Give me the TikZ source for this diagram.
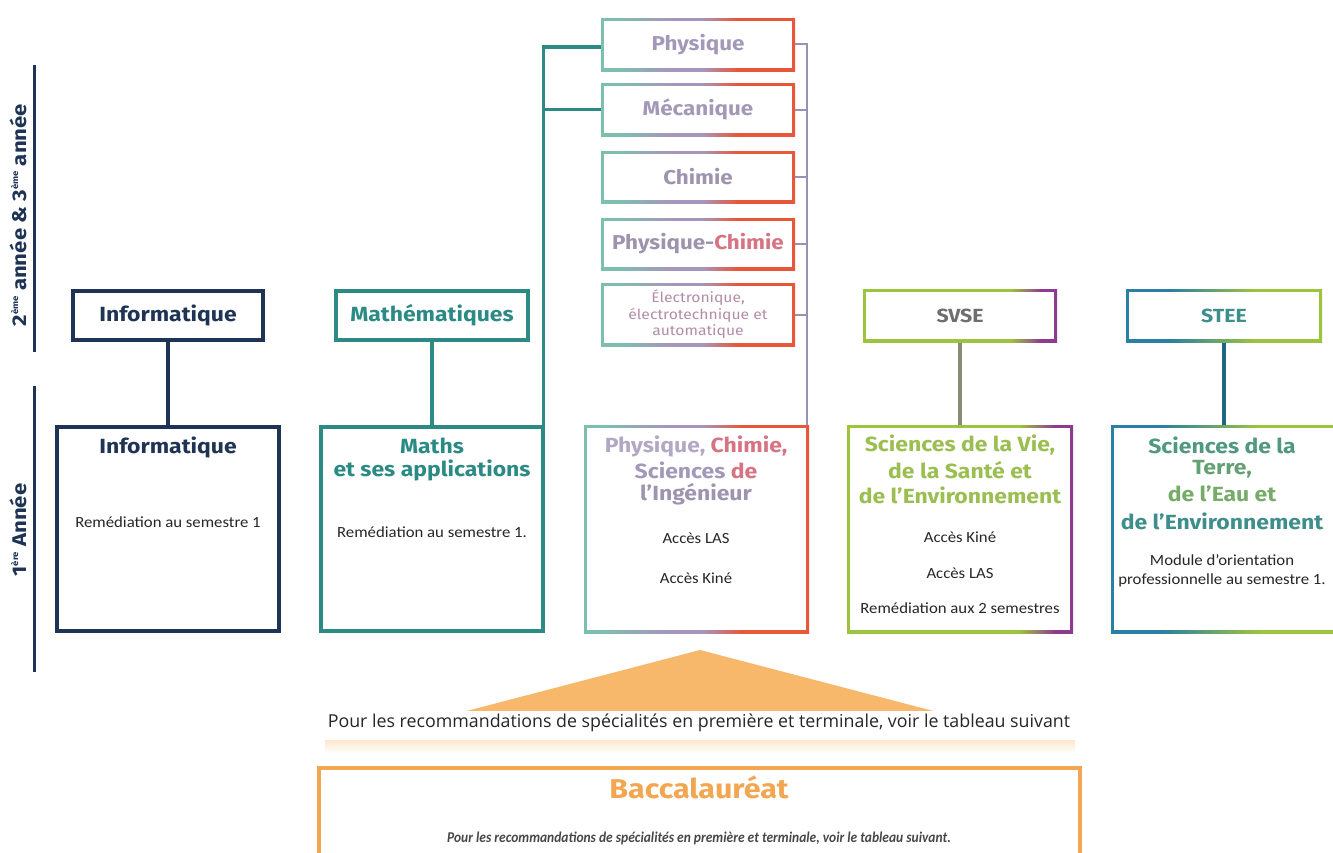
\documentclass[tikz,border=0pt]{standalone}
\usepackage{fontspec}
\setmainfont{Fira Sans}[FakeStretch=1.12]
\newfontfamily\bodyf{Carlito}[FakeStretch=1.08]
\newfontfamily\itf{Carlito}
\newfontfamily\bandf{Open Sans}
\usetikzlibrary{fit}
\definecolor{navy}{HTML}{1F3454}
\definecolor{teal}{HTML}{2B8A84}
\definecolor{pcA}{HTML}{7DBFAE}
\definecolor{pcB}{HTML}{A596BE}
\definecolor{pcC}{HTML}{E9573B}
\definecolor{lav}{HTML}{9A92B4}
\definecolor{lavtxt}{HTML}{A498B8}
\definecolor{pinktxt}{HTML}{D67484}
\definecolor{green}{HTML}{9DC43E}
\definecolor{purp}{HTML}{8E3B8F}
\definecolor{stblue}{HTML}{2A7FA2}
\definecolor{olive}{HTML}{8C8A72}
\definecolor{greentxt}{HTML}{9BBE50}
\definecolor{tealtxt}{HTML}{3E8E8C}
\definecolor{orangeA}{HTML}{F8B86C}
\definecolor{orangeB}{HTML}{F3A651}
\definecolor{greytxt}{HTML}{6E6E6E}
\pgfdeclarehorizontalshading{pcshade}{100bp}{color(0bp)=(pcA); color(29bp)=(pcA); color(43bp)=(pcB); color(51bp)=(pcB); color(60bp)=(pcC); color(100bp)=(pcC)}
\pgfdeclarehorizontalshading{svshade}{100bp}{color(0bp)=(green); color(63bp)=(green); color(71bp)=(purp); color(100bp)=(purp)}
\pgfdeclarehorizontalshading{stshade}{100bp}{color(0bp)=(stblue); color(36bp)=(stblue); color(58bp)=(green); color(100bp)=(green)}
\newcommand\mkbox[5]{\node[fit={(#2,#3) (#4,#5)}, inner sep=0pt, outer sep=0pt] (#1) {};}
\newcommand\solidborder[2]{\draw[line width=3.6pt, #2] ([xshift=1.8pt,yshift=-1.8pt]#1.north west) rectangle ([xshift=-1.8pt,yshift=1.8pt]#1.south east);}
\newcommand\gradborder[2]{\shade[shading=#2] (#1.north west) rectangle (#1.south east);
  \fill[white] ([xshift=3.4pt,yshift=-3.4pt]#1.north west) rectangle ([xshift=-3.4pt,yshift=3.4pt]#1.south east);}
\newcommand\supx[1]{\raisebox{0.75ex}{\fontsize{8.5}{9}\selectfont #1}}
\tikzset{
  ttl/.style={font=\bfseries\fontsize{20.5}{24}\selectfont, inner sep=0pt},
  sttl/.style={font=\bfseries\fontsize{20}{24}\selectfont, inner sep=0pt},
  small/.style={font=\bodyf\fontsize{15.5}{18}\selectfont, text=black!85, inner sep=0pt},
  axlab/.style={font=\bfseries\fontsize{19.8}{23}\selectfont, text=navy, rotate=90, inner sep=0pt},
}
\begin{document}
\begin{tikzpicture}[x=1pt,y=-1pt]
\useasboundingbox (0,0) rectangle (1333,852);
\clip (0,0) rectangle (1333,852);
% axis
\coordinate (a1) at (34,65); \coordinate (a2) at (34,352);
\coordinate (a3) at (34,386); \coordinate (a4) at (34,672);
\draw[navy, line width=3pt] (a1) -- (a2);
\draw[navy, line width=3pt] (a3) -- (a4);
\node[axlab] (lab2) at (18,215) {2\supx{ème} année \& 3\supx{ème} année};
\node[axlab] (lab1) at (18,530) {1\supx{ère} Année};
% boxes
\mkbox{infT}{71}{289}{265}{342}
\mkbox{mathT}{334}{289}{530}{342}
\mkbox{phys}{601}{18}{795}{71}
\mkbox{meca}{601}{83}{795}{136}
\mkbox{chim}{601}{151}{795}{203}
\mkbox{pc}{601}{218}{795}{270}
\mkbox{elec}{601}{283}{795}{346}
\mkbox{svseT}{863}{289}{1057}{342}
\mkbox{steeT}{1126}{289}{1322}{342}
\mkbox{infB}{55}{425}{281}{633}
\mkbox{mathB}{319}{425}{545}{633}
\mkbox{pcsiB}{584}{425}{809}{633}
\mkbox{svseB}{847}{425}{1073}{633}
\mkbox{steeB}{1111}{425}{1337}{633}
\mkbox{bac}{317}{766}{1082}{870}
% connectors
\draw[navy, line width=3.4pt] (infT.south) -- (infB.north);
\draw[teal, line width=3.4pt] (mathT.south) -- (mathB.north);
\coordinate (tl) at (543,47);
\draw[teal, line width=3.4pt] ([xshift=-1.8pt]mathB.north east) -- ([xshift=-1.8pt]mathB.north east |- tl) -- (phys.west |- tl);
\draw[teal, line width=3.4pt] ([xshift=-1.8pt]mathB.north east |- meca.west) -- (meca.west);
\coordinate (rt) at (807,44);
\draw[lav, line width=2.6pt] (phys.east |- rt) -- (rt) -- (rt |- pcsiB.north);
\draw[lav, line width=2pt] (meca.east) -- (meca.east -| rt);
\draw[lav, line width=2pt] (chim.east) -- (chim.east -| rt);
\draw[lav, line width=2pt] (pc.east) -- (pc.east -| rt);
\draw[lav, line width=2pt] (elec.east) -- (elec.east -| rt);
\draw[olive, line width=3.4pt] (svseT.south) -- (svseB.north);
\draw[stblue!80!black, line width=3.4pt] (steeT.south) -- (steeB.north);
% borders
\solidborder{infT}{navy}
\solidborder{infB}{navy}
\solidborder{mathT}{teal}
\solidborder{mathB}{teal}
\gradborder{phys}{pcshade}
\gradborder{meca}{pcshade}
\gradborder{chim}{pcshade}
\gradborder{pc}{pcshade}
\gradborder{elec}{pcshade}
\gradborder{pcsiB}{pcshade}
\gradborder{svseT}{svshade}
\gradborder{svseB}{svshade}
\gradborder{steeT}{stshade}
\gradborder{steeB}{stshade}
% baccalaureat base
\fill[orangeA] (700,650) -- (1075,748) -- (325,748) -- cycle;
\shade[top color=orangeA!35, bottom color=white] (325,740) rectangle (1075,753);
\fill[white] (318,711) rectangle (1082,740);
\node[font=\bandf\fontsize{17.8}{21}\selectfont, text=black!85, inner sep=0pt] (band) at (699,723) {Pour les recommandations de spécialités en première et terminale, voir le tableau suivant};
\draw[orangeB, line width=3.6pt] ([xshift=1.8pt,yshift=-1.8pt]bac.north west) rectangle ([xshift=-1.8pt,yshift=1.8pt]bac.south east);
\node[font=\bfseries\fontsize{27.2}{31}\selectfont, text=orangeB, inner sep=0pt] (bact) at (699,787) {Baccalauréat};
\node[font=\itf\bfseries\itshape\fontsize{15}{18}\selectfont, text=black!72, inner sep=0pt, xscale=0.9] (bacs) at (699,838) {Pour les recommandations de spécialités en première et terminale, voir le tableau suivant.};
% top texts
\node[ttl, text=navy] (t1) at (infT) {Informatique};
\node[ttl, text=teal] (t2) at (mathT) {Mathématiques};
\node[sttl, text=lavtxt] (t3) at (phys) {Physique};
\node[sttl, text=lavtxt] (t4) at (meca) {Mécanique};
\node[sttl, text=lavtxt!85!gray] (t5) at (chim) {Chimie};
\node[sttl, text=lavtxt!80!gray] (t6) at (pc) {Physique-\textcolor{pinktxt}{Chimie}};
\node[font=\fontsize{14}{16.5}\selectfont, text=lavtxt!70!pinktxt, align=center, inner sep=0pt] (t7) at (elec) {Électronique,\\électrotechnique et\\automatique};
\node[font=\bfseries\fontsize{19}{23}\selectfont, text=greytxt, inner sep=0pt] (t8) at (svseT) {SVSE};
\node[font=\bfseries\fontsize{19}{23}\selectfont, text=tealtxt, inner sep=0pt] (t9) at (steeT) {STEE};
% bottom texts: Informatique
\node[ttl, text=navy] (b1) at (168,447) {Informatique};
\node[small] (b1s) at (168,522) {Remédiation au semestre 1};
% Maths
\node[ttl, text=teal] (b2a) at (432,446) {Maths};
\node[ttl, text=teal] (b2b) at (432,470) {et ses applications};
\node[small] (b2s) at (432,532) {Remédiation au semestre 1.};
% PCSI
\node[ttl, text=lavtxt!85!white] (b3a) at (696,446) {Physique, \textcolor{pinktxt}{Chimie,}};
\node[ttl, text=lavtxt] (b3b) at (696,470) {Sciences \textcolor{pinktxt}{de}};
\node[ttl, text=lavtxt!85!gray] (b3c) at (696,494) {l’Ingénieur};
\node[small] (b3s1) at (696,538) {Accès LAS};
\node[small] (b3s2) at (696,578) {Accès Kiné};
% SVSE
\node[ttl, text=greentxt] (b4a) at (960,445) {Sciences de la Vie,};
\node[ttl, text=greentxt] (b4b) at (960,470) {de la Santé et};
\node[ttl, text=greentxt] (b4c) at (960,495) {de l’Environnement};
\node[small] (b4s1) at (960,537) {Accès Kiné};
\node[small] (b4s2) at (960,573) {Accès LAS};
\node[small] (b4s3) at (960,608) {Remédiation aux 2 semestres};
% STEE
\node[ttl, text=tealtxt!80!greentxt] (b5a) at (1222,445) {Sciences de la};
\node[ttl, text=tealtxt!60!greentxt] (b5b) at (1222,469) {Terre,};
\node[ttl, text=tealtxt!40!greentxt] (b5c) at (1222,494) {de l’Eau et};
\node[ttl, text=tealtxt] (b5d) at (1222,521) {de l’Environnement};
\node[small] (b5s1) at (1222,560) {Module d’orientation};
\node[small] (b5s2) at (1222,580) {professionnelle au semestre 1.};
\end{tikzpicture}
\end{document}
